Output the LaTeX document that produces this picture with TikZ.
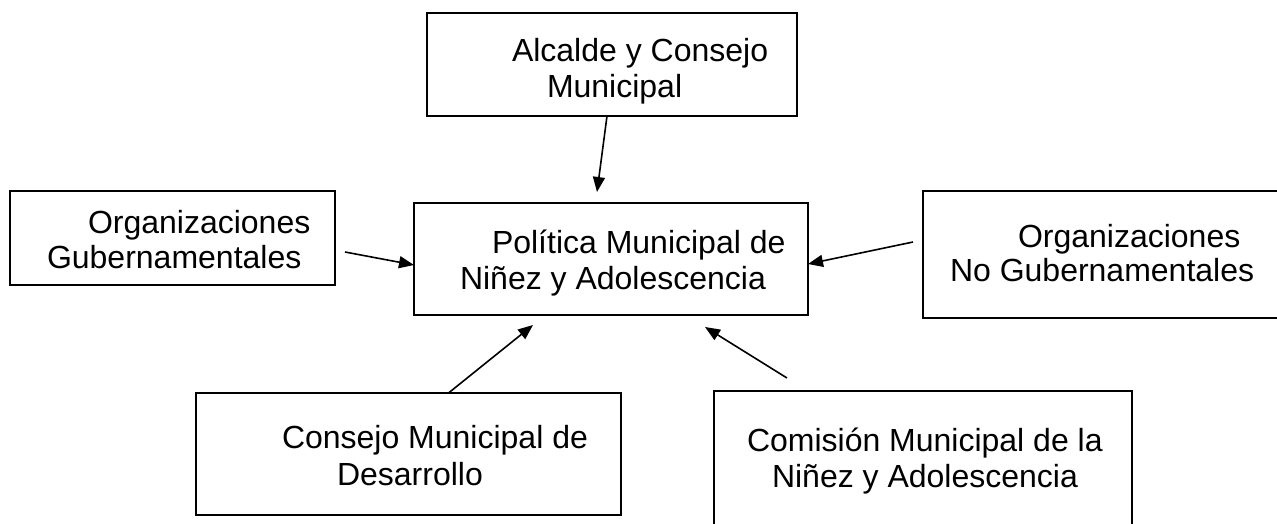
\documentclass[tikz,border=0pt]{standalone}
\usepackage{fontspec}
\setmainfont{Liberation Sans}
\usetikzlibrary{arrows.meta}
\begin{document}
\begin{tikzpicture}[x=1pt,y=-1pt,
  boxnode/.style={draw=black,line width=1.6pt,inner sep=0pt,outer sep=0pt,anchor=north west},
  txt/.style={inner sep=0pt,outer sep=0pt,anchor=base west,font=\fontsize{32}{36}\selectfont},
  arr/.style={line width=1.6pt,-{Triangle[length=15pt,width=12pt]}}]
\useasboundingbox (0,0) rectangle (1277,523);
\clip (0,0) rectangle (1277,523);
% boxes
\node[boxnode,minimum width=370pt,minimum height=103pt] (alc) at (427,13) {};
\node[boxnode,minimum width=325pt,minimum height=94pt] (gob) at (10,191) {};
\node[boxnode,minimum width=394pt,minimum height=112pt] (pol) at (414,203) {};
\node[boxnode,minimum width=380pt,minimum height=127pt] (ong) at (923,191) {};
\node[boxnode,minimum width=425pt,minimum height=122pt] (cmd) at (196,393) {};
\node[boxnode,minimum width=418pt,minimum height=160pt] (com) at (714,391) {};
% texts
\node[txt] (alc1) at (512,61) {Alcalde y Consejo};
\node[txt] (alc2) at (547,97) {Municipal};
\node[txt] (gob1) at (88,233) {Organizaciones};
\node[txt] (gob2) at (47,268) {Gubernamentales};
\node[txt] (pol1) at (492,253) {Política Municipal de};
\node[txt] (pol2) at (460,289) {Niñez y Adolescencia};
\node[txt] (ong1) at (1018,247) {Organizaciones};
\node[txt] (ong2) at (950,281) {No Gubernamentales};
\node[txt] (cmd1) at (282,448) {Consejo Municipal de};
\node[txt] (cmd2) at (337,485) {Desarrollo};
\node[txt] (com1) at (747,451) {Comisión Municipal de la};
\node[txt] (com2) at (772,487) {Niñez y Adolescencia};
% free arrow ends
\coordinate (tipA) at (597,192);
\coordinate (tailG) at (345,252);
\coordinate (tailO) at (913,242);
\coordinate (tipC) at (533,325);
\coordinate (tailM) at (787,378);
\coordinate (tipM) at (705,327);
% arrows
\draw[arr] ([xshift=-5pt]alc.south) -- (tipA);
\draw[arr] (tailG) -- ([yshift=-6pt]pol.west);
\draw[arr] (tailO) -- ([yshift=-5pt]pol.east);
\draw[arr] ([xshift=40pt]cmd.north) -- (tipC);
\draw[arr] (tailM) -- (tipM);
\end{tikzpicture}
\end{document}
